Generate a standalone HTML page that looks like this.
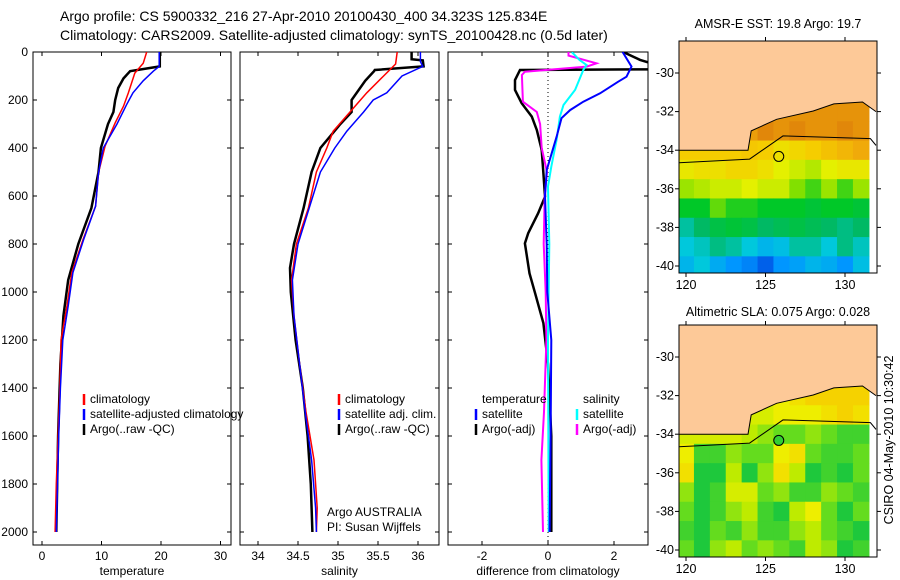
<!DOCTYPE html>
<html><head><meta charset="utf-8"><style>
body{margin:0;background:#fff;}
svg{display:block;font-family:"Liberation Sans",sans-serif;}
</style></head><body>
<svg id="fig" width="900" height="580" viewBox="0 0 900 580" xmlns="http://www.w3.org/2000/svg">
<rect width="900" height="580" fill="#fff"/>
<text x="60" y="21" font-size="14">Argo profile: CS 5900332_216 27-Apr-2010 20100430_400 34.323S 125.834E</text>
<text x="60" y="40" font-size="14">Climatology: CARS2009. Satellite-adjusted climatology: synTS_20100428.nc (0.5d later)</text>
<text x="778" y="28" font-size="12.5" text-anchor="middle">AMSR-E SST: 19.8 Argo: 19.7</text>
<text x="778" y="316" font-size="12.5" text-anchor="middle">Altimetric SLA: 0.075 Argo: 0.028</text>
<text transform="translate(893,440) rotate(-90)" font-size="12.5" text-anchor="middle">CSIRO 04-May-2010 10:30:42</text>
<g id="plots"></g>
</svg>
<script>
// ---------- profile data (depth arrays + value arrays) ----------
const tClimD=[0,47,88,171,226,295,392,503,642,781,919,1058,1200,1400,1600,1800,2000];
const tClimV=[17.6,17.0,15.6,14.5,13.7,12.3,10.6,9.5,9.0,6.9,5.0,4.2,3.2,3.0,2.7,2.4,2.2];
const tSatD=[0,60,80,120,170,220,300,400,503,642,781,919,1058,1200,1400,1600,1800,2000];
const tSatV=[19.7,19.7,18.7,17.0,15.3,14.2,12.6,10.3,9.5,9.0,7.0,5.2,4.4,3.5,3.1,2.8,2.6,2.4];
const tArgoD=[0,60,80,110,150,200,250,300,400,500,650,800,950,1100,1300,1600,2000];
const tArgoV=[19.8,19.8,14.8,13.7,12.8,12.3,12.0,11.1,9.9,9.5,8.3,6.1,4.4,3.6,3.1,2.7,2.4];

const sClimD=[0,50,100,170,250,330,400,500,650,800,950,1100,1300,1500,1700,1900,2000];
const sClimV=[35.74,35.72,35.57,35.36,35.15,34.94,34.86,34.73,34.63,34.48,34.42,34.45,34.52,34.60,34.70,34.74,34.73];
const sSatD=[0,40,60,100,170,200,250,330,400,500,650,800,950,1100,1300,1500,1700,1900,2000];
const sSatV=[36.03,36.03,36.06,35.80,35.61,35.44,35.32,35.11,34.96,34.78,34.64,34.50,34.43,34.45,34.52,34.59,34.67,34.72,34.73];
const sArgoD=[0,30,35,60,75,80,120,200,250,300,400,500,650,800,900,1000,1200,1400,1600,1800,2000];
const sArgoV=[35.92,35.92,36.06,36.07,35.46,35.45,35.34,35.17,35.17,35.03,34.78,34.67,34.57,34.45,34.40,34.41,34.47,34.56,34.62,34.66,34.68];

const dTArgoD=[0,33,50,72,75,117,158,213,269,325,408,505,603,672,755,797,922,1005,1130,1300,1600,2000];
const dTArgoV=[2.28,2.79,3.2,3.2,-0.85,-1.0,-1.0,-0.8,-0.49,-0.34,-0.19,-0.14,-0.09,-0.3,-0.6,-0.7,-0.56,-0.39,-0.14,0.0,0.1,0.1];
const dTSatD=[0,61,103,124,172,207,242,276,353,492,600,800,1000,1200,1600,2000];
const dTSatV=[2.26,2.53,2.38,2.12,1.58,1.07,0.67,0.41,0.26,-0.04,-0.09,-0.04,-0.02,0.1,0.08,0.05];
const dSArgoD=[0,15,47,61,82,96,207,250,300,400,500,600,800,1000,1200,1500,1700,2000];
const dSArgoV=[0.62,0.62,1.47,1.17,-0.7,-0.79,-0.76,-0.34,-0.24,-0.19,-0.03,-0.1,-0.13,-0.07,-0.05,-0.12,-0.2,-0.15];
const dSSatD=[0,33,54,75,158,221,269,366,478,560,800,1200,2000];
const dSSatV=[0.72,0.95,1.17,1.07,0.82,0.47,0.36,0.26,0.1,0.0,0.04,0.0,0.02];

const depthTicks=[0,200,400,600,800,1000,1200,1400,1600,1800,2000];
const tempTicks=[0,10,20,30];
const salTicks=[34,34.5,35,35.5,36];
const salTickLabels=["34","34.5","35","35.5","36"];
const diffTicks=[-2,0,2];

// ---------- map data ----------
const mapLons=[120,121,122,123,124,125,126,127,128,129,130,131];
const mapLats=[-32,-33,-34,-35,-36,-37,-38,-39,-40];
const sstGrid=[
[21.0,21.0,21.0,21.0,21.0,21.0,21.0,21.0,21.0,21.0,21.0,21.0],
[20.2,20.2,20.2,20.3,20.8,21.2,21.0,21.2,21.0,21.0,21.2,21.0],
[20.0,20.0,20.0,20.0,20.1,20.0,19.8,19.9,20.0,20.2,20.4,20.6],
[19.7,19.8,19.8,19.9,19.9,19.8,19.6,19.5,19.4,19.6,19.7,19.7],
[19.3,19.4,19.5,19.5,19.6,19.5,19.5,19.2,19.0,19.3,19.0,19.3],
[18.8,18.8,19.1,18.9,18.9,18.8,18.8,18.8,18.7,18.8,18.8,18.7],
[18.2,18.4,18.6,18.7,18.6,18.4,18.5,18.6,18.5,18.4,18.3,18.4],
[18.0,18.1,18.3,18.2,18.0,17.8,17.9,18.2,18.2,18.0,18.3,18.1],
[17.8,18.0,17.7,17.5,17.4,17.2,17.5,17.6,17.8,17.7,17.5,17.9]];
const slaGrid=[
[0.3,0.3,0.3,0.3,0.3,0.3,0.3,0.35,0.4,0.4,0.4,0.4],
[0.25,0.25,0.25,0.25,0.25,0.25,0.3,0.3,0.3,0.35,0.4,0.35],
[0.25,0.25,0.25,0.25,0.2,0.15,0.1,0.1,0.15,0.1,0.05,0.05],
[0.3,0.05,0.05,0.15,0.1,0.1,0.3,0.35,0.1,0.05,0.05,0.1],
[0.35,0.0,0.0,0.2,0.0,0.15,0.35,0.2,0.0,0.05,0.0,0.1],
[0.15,0.0,0.05,0.25,0.25,0.1,0.15,0.05,0.05,0.15,0.1,0.05],
[0.1,0.0,0.05,0.15,0.2,0.05,0.0,0.2,0.3,0.1,0.0,0.1],
[0.05,0.0,0.1,0.05,0.15,0.05,0.05,0.15,0.2,0.1,0.05,0.0],
[0.1,0.0,0.15,0.2,0.1,0.15,0.1,0.05,0.2,0.15,0.0,0.05]];
const coastLon=[119.5,123.9,124.1,125.7,128.0,129.3,131.1,131.95];
const coastLat=[-34.0,-34.0,-33.0,-32.4,-31.97,-31.6,-31.5,-32.0];
const contourLon=[119.5,124.0,126.1,131.6,131.95];
const contourLat=[-34.65,-34.46,-33.26,-33.4,-33.75];
const argoLon=125.834, argoLat=-34.323;
const mapLonTicks=[120,125,130];
const mapLatTicks=[-30,-32,-34,-36,-38,-40];

const NS="http://www.w3.org/2000/svg";
const root=document.getElementById('plots');
function mk(tag,attrs,parent){const e=document.createElementNS(NS,tag);for(const k in attrs)e.setAttribute(k,attrs[k]);(parent||root).appendChild(e);return e;}

const top0=52, pxPerM=0.24, bot=545;
const yD=d=>top0+d*pxPerM;
const panels=[
 {name:'temperature',x0:33,x1:231,ref:0,refPx:42,ppu:5.95},
 {name:'salinity',x0:240,x1:439,ref:34,refPx:258,ppu:80},
 {name:'difference',x0:448,x1:648,ref:0,refPx:548,ppu:33}
];
panels.forEach(p=>{p.sx=v=>p.refPx+(v-p.ref)*p.ppu;});

function axesFrame(p,ticks,labels,xlabel,idx){
  const g=mk('g',{});
  
  
  const cp=mk('clipPath',{id:'clip'+idx},g);
  mk('rect',{x:p.x0,y:top0,width:p.x1-p.x0,height:bot-top0},cp);
  const fr=mk('rect',{x:p.x0,y:top0,width:p.x1-p.x0,height:bot-top0,fill:'none',stroke:'#000','stroke-width':1},g);
  
  
  ticks.forEach((t,i)=>{
    const x=p.sx(t);
    mk('line',{x1:x,x2:x,y1:bot,y2:bot-4,stroke:'#000'},g);
    mk('line',{x1:x,x2:x,y1:top0,y2:top0+4,stroke:'#000'},g);
    const tx=mk('text',{x:x,y:bot+15,'font-size':12,'text-anchor':'middle'},g);
    tx.textContent=labels[i];
    
    
  });
  depthTicks.forEach(d=>{
    const y=yD(d);
    mk('line',{x1:p.x0,x2:p.x0+4,y1:y,y2:y,stroke:'#000'},g);
    mk('line',{x1:p.x1,x2:p.x1-4,y1:y,y2:y,stroke:'#000'},g);
    if(idx===0){const tx=mk('text',{x:p.x0-5,y:y+4,'font-size':12,'text-anchor':'end'},g);tx.textContent=String(d);
      
      }
  });
  const xl=mk('text',{x:(p.x0+p.x1)/2,y:575,'font-size':12,'text-anchor':'middle'},g);
  xl.textContent=xlabel;
  
  
  return g;
}
function series(p,idx,D,V,color,w,name){
  const pts=D.map((d,i)=>p.sx(V[i]).toFixed(1)+','+yD(d).toFixed(1)).join(' ');
  const l=mk('polyline',{points:pts,fill:'none',stroke:color,'stroke-width':w,'clip-path':'url(#clip'+idx+')','stroke-linejoin':'miter'});
  
  
}
function legendEntry(x,y,color,label,name){
  const g=mk('g',{});
  
  
  if(color)mk('line',{x1:x,x2:x,y1:y-9,y2:y+2,stroke:color,'stroke-width':2.5},g);
  const t=mk('text',{x:x+6,y:y,'font-size':12},g);t.textContent=label;
}

axesFrame(panels[0],tempTicks,tempTicks.map(String),'temperature',0);
axesFrame(panels[1],salTicks,salTickLabels,'salinity',1);
axesFrame(panels[2],diffTicks,diffTicks.map(String),'difference from climatology',2);
mk('line',{x1:548,x2:548,y1:top0,y2:bot,stroke:'#000','stroke-dasharray':'1,3','stroke-width':1});

series(panels[0],0,tArgoD,tArgoV,'#000',2.5,'temp-argo-line');
series(panels[0],0,tClimD,tClimV,'#f00',1.5,'temp-climatology-line');
series(panels[0],0,tSatD,tSatV,'#00f',1.5,'temp-satellite-line');
series(panels[1],1,sArgoD,sArgoV,'#000',2.5,'sal-argo-line');
series(panels[1],1,sClimD,sClimV,'#f00',1.5,'sal-climatology-line');
series(panels[1],1,sSatD,sSatV,'#00f',1.5,'sal-satellite-line');
series(panels[2],2,dTArgoD,dTArgoV,'#000',2.5,'diff-temp-argo-line');
series(panels[2],2,dSArgoD,dSArgoV,'#f0f',2,'diff-sal-argo-line');
series(panels[2],2,dSSatD,dSSatV,'#0ff',2,'diff-sal-satellite-line');
series(panels[2],2,dTSatD,dTSatV,'#00f',2,'diff-temp-satellite-line');

legendEntry(84,403,'#f00','climatology','legend-temp-climatology');
legendEntry(84,418,'#00f','satellite-adjusted climatology','legend-temp-satellite');
legendEntry(84,433,'#000','Argo(..raw -QC)','legend-temp-argo');
legendEntry(339,403,'#f00','climatology','legend-sal-climatology');
legendEntry(339,418,'#00f','satellite adj. clim.','legend-sal-satellite');
legendEntry(339,433,'#000','Argo(..raw -QC)','legend-sal-argo');
legendEntry(476,403,null,'temperature','legend-temp-header');
legendEntry(476,418,'#00f','satellite','legend-diff-temp-satellite');
legendEntry(476,433,'#000','Argo(-adj)','legend-diff-temp-argo');
legendEntry(577,403,null,'salinity','legend-sal-header');
legendEntry(577,418,'#0ff','satellite','legend-diff-sal-satellite');
legendEntry(577,433,'#f0f','Argo(-adj)','legend-diff-sal-argo');
legendEntry(321,516,null,'Argo AUSTRALIA','credit-argo-australia');
legendEntry(321,531,null,'PI: Susan Wijffels','credit-pi');

// ---------- maps ----------
function lerpColor(stops,v){
  if(v<=stops[0][0])return stops[0][1];
  for(let i=1;i<stops.length;i++){if(v<=stops[i][0]){const a=stops[i-1],b=stops[i];const t=(v-a[0])/(b[0]-a[0]);
    const ca=a[1],cb=b[1];return ca.map((c,j)=>Math.round(c+(cb[j]-c)*t));}}
  return stops[stops.length-1][1];
}
const sstStops=[[17.0,[0,60,220]],[17.5,[0,150,255]],[18.0,[0,200,220]],[18.4,[0,185,100]],[18.8,[0,200,40]],[19.2,[130,224,0]],[19.6,[228,240,0]],[20.0,[245,205,0]],[20.6,[240,170,10]],[21.2,[225,135,10]]];
const slaStops=[[0,[30,200,60]],[0.1,[100,220,30]],[0.2,[190,235,0]],[0.3,[238,238,0]],[0.4,[245,210,0]]];
function toArr(c){return 'rgb('+c.join(',')+')';}

function drawMap(top,grid,stops,name,filledArgo){
  const g=mk('g',{});
  
  
  const x0=679,x1=877,bottom=top+232;
  const lx=lon=>686+(lon-120)*15.9;
  const ly=lat=>top+32+(-30-lat)*19.3;
  const id='mclip'+top;
  const cp=mk('clipPath',{id:id},g);mk('rect',{x:x0,y:top,width:x1-x0,height:bottom-top},cp);
  const cg=mk('g',{'clip-path':'url(#'+id+')'},g);
  grid.forEach((row,r)=>{row.forEach((v,c)=>{
    const cell=mk('rect',{x:lx(mapLons[c]-0.5),y:ly(mapLats[r]+0.5),width:15.9+0.6,height:19.3+0.6+(r===grid.length-1?20:0),fill:toArr(lerpColor(stops,v))},cg);
    
    
  });});
  let landPts=coastLon.map((lo,i)=>lx(lo)+','+ly(coastLat[i])).join(' ');
  landPts+=' '+lx(132.5)+','+ly(-32)+' '+lx(132.5)+','+(top-5)+' '+lx(119)+','+(top-5)+' '+lx(119)+','+ly(-34);
  const land=mk('polygon',{points:landPts,fill:'#fdc998',stroke:'none'},cg);
  
  
  mk('polyline',{points:coastLon.map((lo,i)=>lx(lo)+','+ly(coastLat[i])).join(' '),fill:'none',stroke:'#000','stroke-width':1},cg);
  mk('polyline',{points:contourLon.map((lo,i)=>lx(lo)+','+ly(contourLat[i])).join(' '),fill:'none',stroke:'#000','stroke-width':1},cg);
  const ac=mk('circle',{cx:lx(argoLon),cy:ly(argoLat),r:5,fill:filledArgo?toArr(lerpColor(stops,0.028)):'none',stroke:'#000','stroke-width':1},g);
  
  
  mk('rect',{x:x0,y:top,width:x1-x0,height:bottom-top,fill:'none',stroke:'#000'},g);
  mapLonTicks.forEach(lo=>{const x=lx(lo);
    mk('line',{x1:x,x2:x,y1:top,y2:top-4,stroke:'#000'},g);
    mk('line',{x1:x,x2:x,y1:bottom,y2:bottom+4,stroke:'#000'},g);
    const t=mk('text',{x:x,y:bottom+16,'font-size':12.5,'text-anchor':'middle'},g);t.textContent=String(lo);
    
    });
  mapLatTicks.forEach(la=>{const y=ly(la);
    mk('line',{x1:x0,x2:x0-4,y1:y,y2:y,stroke:'#000'},g);
    mk('line',{x1:x1,x2:x1+4,y1:y,y2:y,stroke:'#000'},g);
    const t=mk('text',{x:x0-5,y:y+4,'font-size':12.5,'text-anchor':'end'},g);t.textContent=String(la);
    
    });
}
drawMap(41,sstGrid,sstStops,'sst-map',false);
drawMap(325,slaGrid,slaStops,'sla-map',true);
</script>
</body></html>
